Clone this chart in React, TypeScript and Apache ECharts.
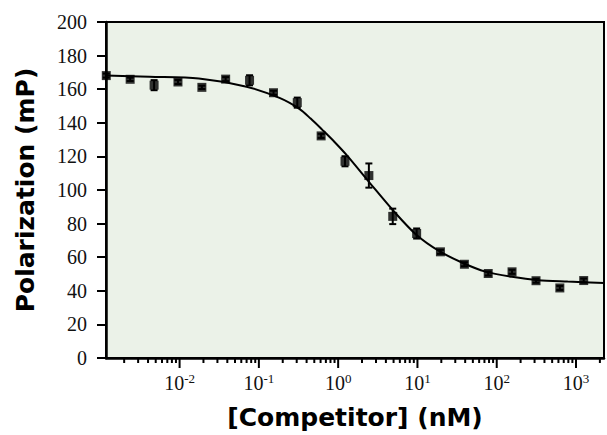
import React, { useEffect, useRef } from "react";
import * as echarts from "echarts";

// Competitor concentration (nM), 2-fold dilution series
const concentrations = [
  0.00119, 0.00238, 0.00477, 0.00954, 0.0191, 0.0381, 0.0763, 0.153, 0.305,
  0.61, 1.22, 2.44, 4.88, 9.77, 19.5, 39.1, 78.1, 156, 313, 625, 1250,
];
// Polarization (mP)
const polarization = [
  168.1, 165.9, 162.4, 164.3, 161.1, 166.0, 165.3, 157.9, 152.0, 132.2, 117.1,
  108.6, 84.3, 74.1, 63.2, 55.8, 50.3, 51.3, 46.0, 41.7, 46.1,
];
// Error (mP)
const errors = [
  1.2, 1.0, 3.0, 1.2, 1.0, 1.2, 3.0, 1.2, 3.0, 1.2, 3.0, 7.2, 4.6, 3.0, 1.2,
  1.2, 1.2, 1.2, 1.2, 1.2, 1.2,
];
// Fitted curve
const fitX = [
  0.00118, 0.00417, 0.0175, 0.07, 0.182, 0.324, 0.45, 0.632, 0.9, 1.29, 2.53,
  4.94, 9.66, 18.9, 36.9, 71.9, 155, 332, 785, 2250,
];
const fitY = [
  168.1, 167.4, 166.4, 161.5, 154.8, 148.3, 142.5, 135.8, 128.6, 120.6, 104.0,
  87.8, 73.4, 63.6, 56.7, 51.4, 48.3, 46.3, 45.5, 44.7,
];
const xTitle = "[Competitor] (nM)";
const yTitle = "Polarization (mP)";
const X_MIN = 0.00118;
const X_MAX = 2254;

const SERIF = "'Liberation Serif', 'Times New Roman', serif";
const HEAVY = "'DejaVu Sans', sans-serif";

export default function App() {
  const ref = useRef<HTMLDivElement>(null);
  useEffect(() => {
    const chart = echarts.init(ref.current!, null, { renderer: "svg" });
    const tickData: number[][] = [];
    for (let e = -3; e <= 3; e++) {
      for (let k = 1; k <= 9; k++) {
        const v = k * Math.pow(10, e);
        if (v >= X_MIN && v <= X_MAX) tickData.push([v, k === 1 ? 1 : 0]);
      }
    }
    const points = concentrations.map((c, i) => [c, polarization[i]]);
    const errData = concentrations.map((c, i) => [c, polarization[i], errors[i]]);
    const fit = fitX.map((x, i) => [x, fitY[i]]);

    chart.setOption({
      animation: false,
      grid: {
        left: 106,
        right: -3,
        top: 22,
        bottom: 74,
        show: true,
        backgroundColor: "#EBF2E8",
        borderColor: "#000",
        borderWidth: 2,
      },
      xAxis: {
        type: "log",
        logBase: 10,
        min: X_MIN,
        max: X_MAX,
        axisLine: { show: true, onZero: false, lineStyle: { color: "#000", width: 2.5 } },
        axisTick: { show: false },
        splitLine: { show: false },
        axisLabel: {
          interval: 0,
          margin: 15,
          formatter: (v: number) => {
            const l = Math.log10(v);
            const n = Math.round(l);
            if (Math.abs(l - n) > 1e-6) return "";
            return `{b|10}{s|${n}}`;
          },
          rich: {
            b: { fontFamily: SERIF, fontSize: 20, color: "#111", lineHeight: 20 },
            s: {
              fontFamily: SERIF,
              fontSize: 13,
              color: "#111",
              lineHeight: 13,
              padding: [0, 0, 9, 0],
            },
          },
        },
        name: xTitle,
        nameLocation: "middle",
        nameGap: 47,
        nameTextStyle: {
          fontFamily: HEAVY,
          fontWeight: "bold",
          fontSize: 25,
          color: "#000",
        },
      },
      yAxis: {
        type: "value",
        min: 0,
        max: 200,
        interval: 20,
        axisLine: { show: true, lineStyle: { color: "#000", width: 2.5 } },
        axisTick: { show: true, length: 9, lineStyle: { color: "#000", width: 2 } },
        splitLine: { show: false },
        axisLabel: {
          margin: 19,
          formatter: (v: number) => `{b|${v}}`,
          rich: {
            b: { fontFamily: SERIF, fontSize: 20, color: "#111", lineHeight: 20 },
          },
        },
        name: yTitle,
        nameLocation: "middle",
        nameGap: 68,
        nameTextStyle: {
          fontFamily: HEAVY,
          fontWeight: "bold",
          fontSize: 25,
          color: "#000",
        },
      },
      series: [
        {
          type: "line",
          data: fit,
          showSymbol: false,
          smooth: 0.3,
          lineStyle: { color: "#000", width: 2 },
          z: 2,
        },
        {
          type: "custom",
          data: errData,
          encode: { x: 0, y: 1 },
          z: 3,
          renderItem: (params: any, api: any) => {
            const x = api.value(0);
            const y = api.value(1);
            const e = api.value(2);
            const top = api.coord([x, y + e]);
            const bot = api.coord([x, y - e]);
            const hw = 3.5;
            const st = { stroke: "#000", lineWidth: 2 };
            return {
              type: "group",
              children: [
                { type: "line", shape: { x1: top[0], y1: top[1], x2: bot[0], y2: bot[1] }, style: st },
                { type: "line", shape: { x1: top[0] - hw, y1: top[1], x2: top[0] + hw, y2: top[1] }, style: st },
                { type: "line", shape: { x1: bot[0] - hw, y1: bot[1], x2: bot[0] + hw, y2: bot[1] }, style: st },
              ],
            };
          },
        },
        {
          type: "scatter",
          data: points,
          symbol: "rect",
          symbolSize: [9, 9],
          itemStyle: { color: "#000" },
          z: 4,
        },
        {
          type: "custom",
          data: tickData,
          encode: { x: 0, y: 1 },
          clip: false,
          silent: true,
          z: 5,
          renderItem: (params: any, api: any) => {
            const p = api.coord([api.value(0), 0]);
            const len = api.value(1) ? 10 : 5;
            return {
              type: "line",
              shape: { x1: p[0], y1: p[1], x2: p[0], y2: p[1] + len },
              style: { stroke: "#000", lineWidth: 2 },
            };
          },
        },
      ],
    });
    return () => chart.dispose();
  }, []);
  return (
    <div
      ref={ref}
      style={{ position: "absolute", left: 0, top: 0, width: 607, height: 435 }}
    />
  );
}
